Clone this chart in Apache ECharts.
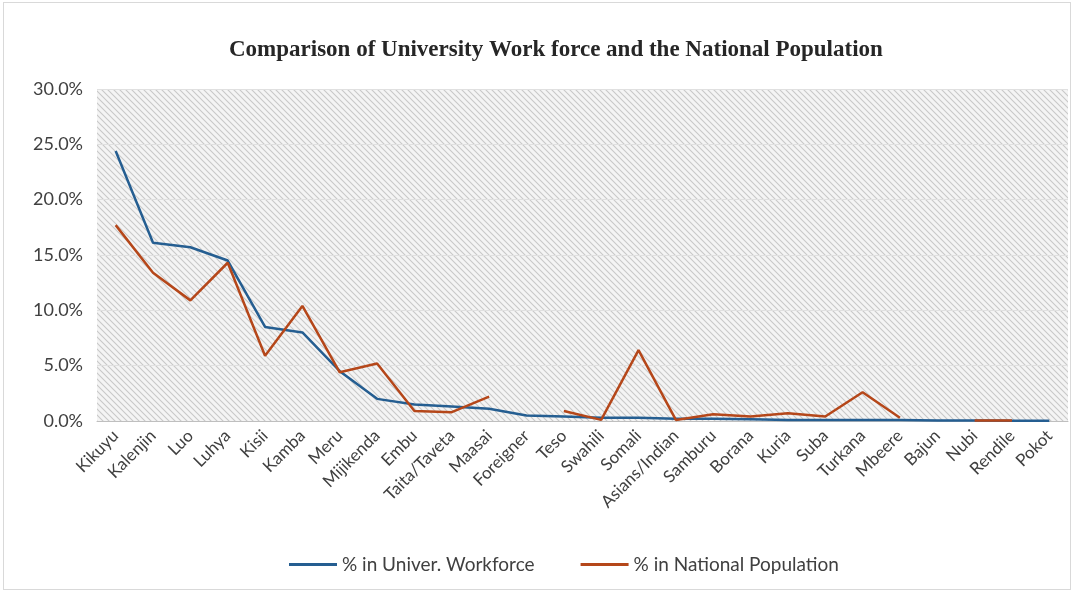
<!DOCTYPE html>
<html>
<head>
<meta charset="utf-8">
<script src="https://cdn.jsdelivr.net/npm/echarts@6/dist/echarts.min.js"></script>
<style>
  html, body { margin: 0; padding: 0; background: #ffffff; }
  #frame { position: absolute; left: 3px; top: 2px; width: 1068px; height: 588px; border: 1px solid #d9d9d9; box-sizing: border-box; }
  #chart { position: absolute; left: 0; top: 0; width: 1075px; height: 593px; }
</style>
</head>
<body>
<div id="frame"></div>
<div id="chart"></div>
<script>
// Ethnic groups along the x axis
const categories = ['Kikuyu', 'Kalenjin', 'Luo', 'Luhya', 'Kisii', 'Kamba', 'Meru', 'Mijikenda', 'Embu',
  'Taita/Taveta', 'Maasai', 'Foreigner', 'Teso', 'Swahili', 'Somali', 'Asians/Indian', 'Samburu',
  'Borana', 'Kuria', 'Suba', 'Turkana', 'Mbeere', 'Bajun', 'Nubi', 'Rendile', 'Pokot'];

// Share of university workforce (%)
const workforce = [24.4, 16.1, 15.7, 14.5, 8.5, 8.0, 4.5, 2.0, 1.5, 1.3, 1.1, 0.5, 0.4, 0.3, 0.3, 0.2, 0.2,
  0.15, 0.1, 0.1, 0.1, 0.1, 0.05, 0.05, 0.03, 0.02];

// Share of national population (%); null where no figure is given
const population = [17.7, 13.4, 10.9, 14.3, 5.9, 10.4, 4.4, 5.2, 0.9, 0.8, 2.2, null, 0.9, 0.1, 6.4, 0.1, 0.6,
  0.4, 0.7, 0.4, 2.6, 0.3, null, 0.05, 0.05, null];

const yTicks = [0, 5, 10, 15, 20, 25, 30];

// Diagonal hatch used for the plot area fill
function hatch() {
  const c = document.createElement('canvas');
  c.width = 6; c.height = 6;
  const g = c.getContext('2d');
  g.fillStyle = '#f4f4f4';
  g.fillRect(0, 0, 6, 6);
  g.strokeStyle = '#c8c8c8';
  g.lineWidth = 1.1;
  g.beginPath();
  g.moveTo(-1, -1); g.lineTo(7, 7);
  g.moveTo(-4, 2); g.lineTo(4, 10);
  g.moveTo(2, -4); g.lineTo(10, 4);
  g.stroke();
  return c;
}

const chart = echarts.init(document.getElementById('chart'));
chart.setOption({
  animation: false,
  backgroundColor: 'transparent',
  title: {
    text: 'Comparison of University Work force and the National Population',
    left: 224, top: 34,
    textStyle: { fontFamily: 'Liberation Serif', fontWeight: 'bold', fontSize: 23, color: '#262626' }
  },
  legend: {
    bottom: 14, left: 284, itemWidth: 48, itemHeight: 3, itemGap: 46, icon: 'rect',
    textStyle: { fontFamily: 'Lato', fontSize: 19, color: '#404040' },
    data: ['% in Univer. Workforce', '% in National Population']
  },
  grid: {
    left: 97, right: 7, top: 89, bottom: 172,
    show: true, borderWidth: 0,
    backgroundColor: { image: hatch(), repeat: 'repeat' }
  },
  xAxis: {
    type: 'category', data: categories, boundaryGap: true,
    axisLine: { show: true, lineStyle: { color: '#bfbfbf' } },
    axisTick: { show: false },
    axisLabel: { rotate: 45, interval: 0, fontFamily: 'Lato', fontSize: 17, color: '#404040', margin: 12 }
  },
  yAxis: {
    type: 'value', min: 0, max: 30, interval: 5,
    axisLine: { show: false }, axisTick: { show: false },
    splitLine: { show: true, lineStyle: { color: '#e0e0e0' } },
    axisLabel: {
      fontFamily: 'Lato', fontSize: 18, color: '#404040', margin: 14,
      formatter: v => yTicks.includes(v) ? v.toFixed(1) + '%' : ''
    }
  },
  series: [
    {
      name: '% in Univer. Workforce', type: 'line', data: workforce,
      symbol: 'none', lineStyle: { color: '#255e91', width: 2.5 }, itemStyle: { color: '#255e91' }
    },
    {
      name: '% in National Population', type: 'line', data: population, connectNulls: false,
      symbol: 'none', lineStyle: { color: '#b5471a', width: 2.5 }, itemStyle: { color: '#b5471a' }
    }
  ]
});
</script>
</body>
</html>
